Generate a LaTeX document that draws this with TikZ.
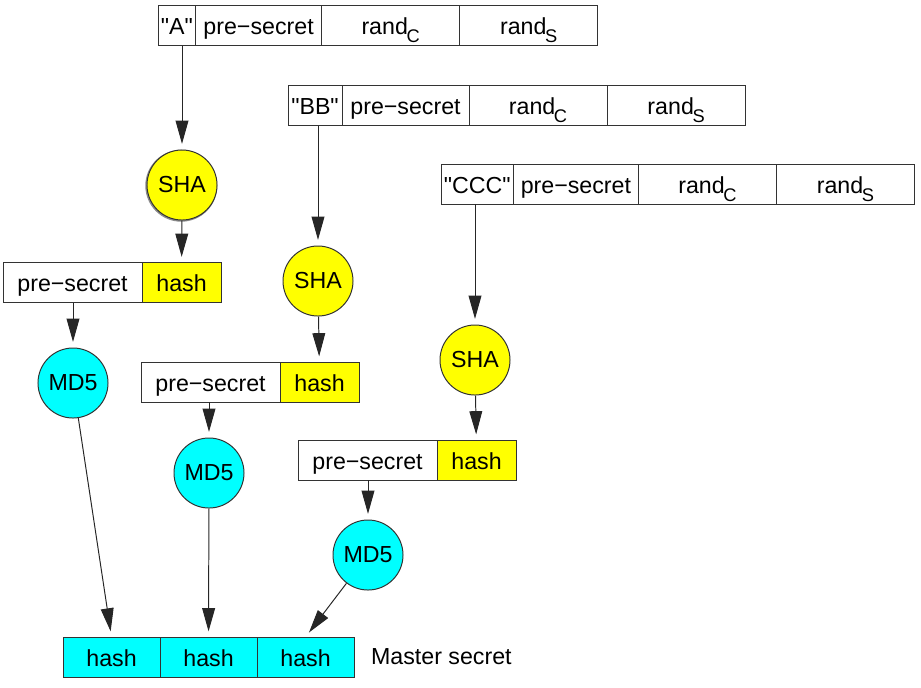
\documentclass[tikz,border=0pt]{standalone}
\usepackage{fontspec}
\setmainfont{Liberation Sans}
\usetikzlibrary{arrows.meta,positioning}
\definecolor{shaYellow}{RGB}{255,255,0}
\definecolor{mdCyan}{RGB}{0,255,255}
\newcommand{\sub}[1]{\kern-1pt\raisebox{-5.7pt}{\fontsize{13}{15}\selectfont #1}}
\tikzset{
myCell/.style={
	rectangle,draw=black!80,fill=white,line width=0.7pt,
	inner sep=1pt,outer sep=0pt,minimum height=1cm,
	text height=13pt,text depth=0pt,
	font=\fontsize{16.5}{19}\selectfont
}
, myTag/.style={myCell,inner xsep=2pt}
, myRand/.style={myCell,minimum width=3.45cm}
, myPre/.style={myCell,minimum width=3.475cm}
, myHash/.style={myCell,fill=shaYellow,minimum width=1.975cm}
, myMaster/.style={myCell,fill=mdCyan,minimum width=2.425cm}
, mySha/.style={
	circle,draw=black!80,fill=shaYellow,line width=0.7pt,
	inner sep=0pt,minimum size=1.75cm,
	font=\fontsize{16.5}{19}\selectfont
}
, myShaShadow/.style={
	mySha,
	preaction={draw=black!45,line width=1.4pt,transform canvas={xshift=-0.5pt,yshift=-0.5pt}}
}
, myMd5/.style={mySha,fill=mdCyan}
% link
, myArrow/.style={-{Triangle[length=5.8mm,width=3.2mm]},draw=black!85,line width=0.7pt,shorten >=4pt}
}
\begin{document}
\begin{tikzpicture}[x=0.025cm,y=-0.025cm]
	\useasboundingbox (0,0) rectangle (921,687);
	% key rows
	\node[myTag,minimum width=0.85cm,anchor=west] (TagA) at (158,25.5) {\textquotedbl A\textquotedbl};
	\node[myCell,minimum width=3.15cm,right=0pt of TagA] (SecA) {pre−secret};
	\node[myRand,right=0pt of SecA] (RandCA) {rand\sub{C}};
	\node[myRand,right=0pt of RandCA] (RandSA) {rand\sub{S}};

	\node[myTag,minimum width=1.35cm,anchor=west] (TagB) at (288,105.5) {\textquotedbl BB\textquotedbl};
	\node[myCell,minimum width=3.175cm,right=0pt of TagB] (SecB) {pre−secret};
	\node[myRand,right=0pt of SecB] (RandCB) {rand\sub{C}};
	\node[myRand,right=0pt of RandCB] (RandSB) {rand\sub{S}};

	\node[myTag,minimum width=1.675cm,anchor=west] (TagC) at (441,184) {\textquotedbl CCC\textquotedbl};
	\node[myCell,minimum width=3.125cm,right=0pt of TagC] (SecC) {pre−secret};
	\node[myRand,right=0pt of SecC] (RandCC) {rand\sub{C}};
	\node[myRand,right=0pt of RandCC] (RandSC) {rand\sub{S}};

	% sha
	\node[myShaShadow] (ShaA) at (182,185) {SHA};
	\node[mySha] (ShaB) at (318,281) {SHA};
	\node[mySha] (ShaC) at (475,360) {SHA};

	% pre-secret + hash
	\node[myPre,anchor=west] (PreA) at (3,282.5) {pre−secret};
	\node[myHash,right=0pt of PreA] (HashA) {hash};
	\node[myPre,anchor=west] (PreB) at (141,382) {pre−secret};
	\node[myHash,right=0pt of PreB] (HashB) {hash};
	\node[myPre,anchor=west] (PreC) at (298,460) {pre−secret};
	\node[myHash,right=0pt of PreC] (HashC) {hash};

	% md5
	\node[myMd5] (MdA) at (73,383) {MD5};
	\node[myMd5] (MdB) at (209,473) {MD5};
	\node[myMd5] (MdC) at (368,555) {MD5};

	% master secret
	\node[myMaster,anchor=west] (OutA) at (63,657) {hash};
	\node[myMaster,right=0pt of OutA] (OutB) {hash};
	\node[myMaster,right=0pt of OutB] (OutC) {hash};
	\node[anchor=west,inner sep=2pt,font=\fontsize{16.5}{19}\selectfont] (Master) at (368,657) {Master secret};

	% links
	\draw[myArrow] (ShaA.north |- TagA.south) -- (ShaA.north);
	\draw[myArrow] (ShaB.north |- TagB.south) -- (ShaB.north);
	\draw[myArrow] (ShaC.north |- TagC.south) -- (ShaC.north);

	\draw[myArrow] (ShaA) -- (HashA);
	\draw[myArrow] (ShaB) -- (HashB);
	\draw[myArrow] (ShaC) -- (HashC);

	\draw[myArrow] (MdA.north |- PreA.south) -- (MdA.north);
	\draw[myArrow] (MdB.north |- PreB.south) -- (MdB.north);
	\draw[myArrow] (MdC.north |- PreC.south) -- (MdC.north);

	\draw[myArrow] (MdA) -- (OutA.north);
	\draw[myArrow] (MdB) -- (OutB.north);
	\draw[myArrow] (MdC) -- (OutC.north);
\end{tikzpicture}
\end{document}
